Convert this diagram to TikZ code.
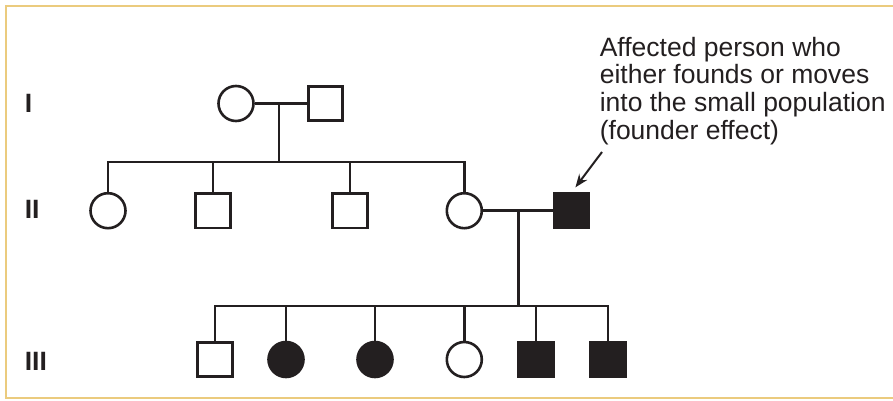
\documentclass[tikz,border=0pt]{standalone}
\usepackage{fontspec}
\setmainfont{Liberation Sans}
\usepackage{tikz}
\usetikzlibrary{arrows.meta,positioning,calc}
\definecolor{PedInk}{HTML}{231F20}
\definecolor{PedGold}{HTML}{EBCB7E}

\begin{document}
\begin{tikzpicture}[x=1pt,y=-1pt,line width=2.6pt,
    every node/.style={font=\fontsize{26.5}{27.7}\selectfont,text=PedInk},
    male/.style={draw=PedInk,rectangle,minimum size=34.5pt,inner sep=0pt},
    female/.style={draw=PedInk,circle,minimum size=35pt,inner sep=0pt},
    hitmale/.style={male,fill=PedInk},
    hitfemale/.style={female,fill=PedInk}]
    \useasboundingbox (0,0) rectangle (893,401);
    \draw[PedGold,line width=2pt] (893,6) -- (6,6) -- (6,398) -- (893,398);
    % generations
    \foreach \y/\lab in {113/I,218/II,370/III}{
      \node[anchor=base west,inner sep=0pt,font=\fontsize{26.5}{27.7}\selectfont\bfseries] (gen\lab) at (23.5,\y) {\lab};}
    % I
    \node[female] (If) at (236,103.5) {};
    \node[male] (Im) at (325.5,103.5) {};
    \draw[PedInk] (If) -- (Im);
    \coordinate (Ic) at (279,103.5);
    \coordinate (IIbar) at (279,162);
    \draw[PedInk] (Ic) -- (IIbar);
    % II
    \node[female] (IIa) at (108,210.7) {};
    \node[male] (IIb) at (213,210.7) {};
    \node[male] (IIc) at (350,210.7) {};
    \node[female] (IId) at (464.3,210.7) {};
    \node[hitmale] (IIm) at (571.8,210.7) {};
    \foreach \k in {IIa,IIb,IIc,IId}
      \draw[PedInk] (IIbar) -| (\k);
    \draw[PedInk] (IId) -- (IIm);
    \coordinate (IIc2) at (518.3,210.7);
    \coordinate (IIIbar) at (518.3,306);
    \draw[PedInk] (IIc2) -- (IIIbar);
    % III
    \foreach \n/\x/\kind in {a/215/male,b/286/hitfemale,c/375/hitfemale,d/464.3/female,e/536/hitmale,f/608/hitmale}{
      \node[\kind] (III\n) at (\x,359.5) {};
      \draw[PedInk] (IIIbar) -| (III\n);}
    % founder note
    \node[anchor=north west,inner sep=0pt,align=left] (note) at (598.5,35.7)
      {Affected person who\\either founds or moves\\into the small population\\(founder effect)};
    \coordinate (ptr) at (602,152);
    \draw[PedInk,line width=2pt,-{Stealth[length=13pt,width=10pt]},shorten >=6pt] (ptr) -- (IIm.north);
  \end{tikzpicture}
\end{document}
